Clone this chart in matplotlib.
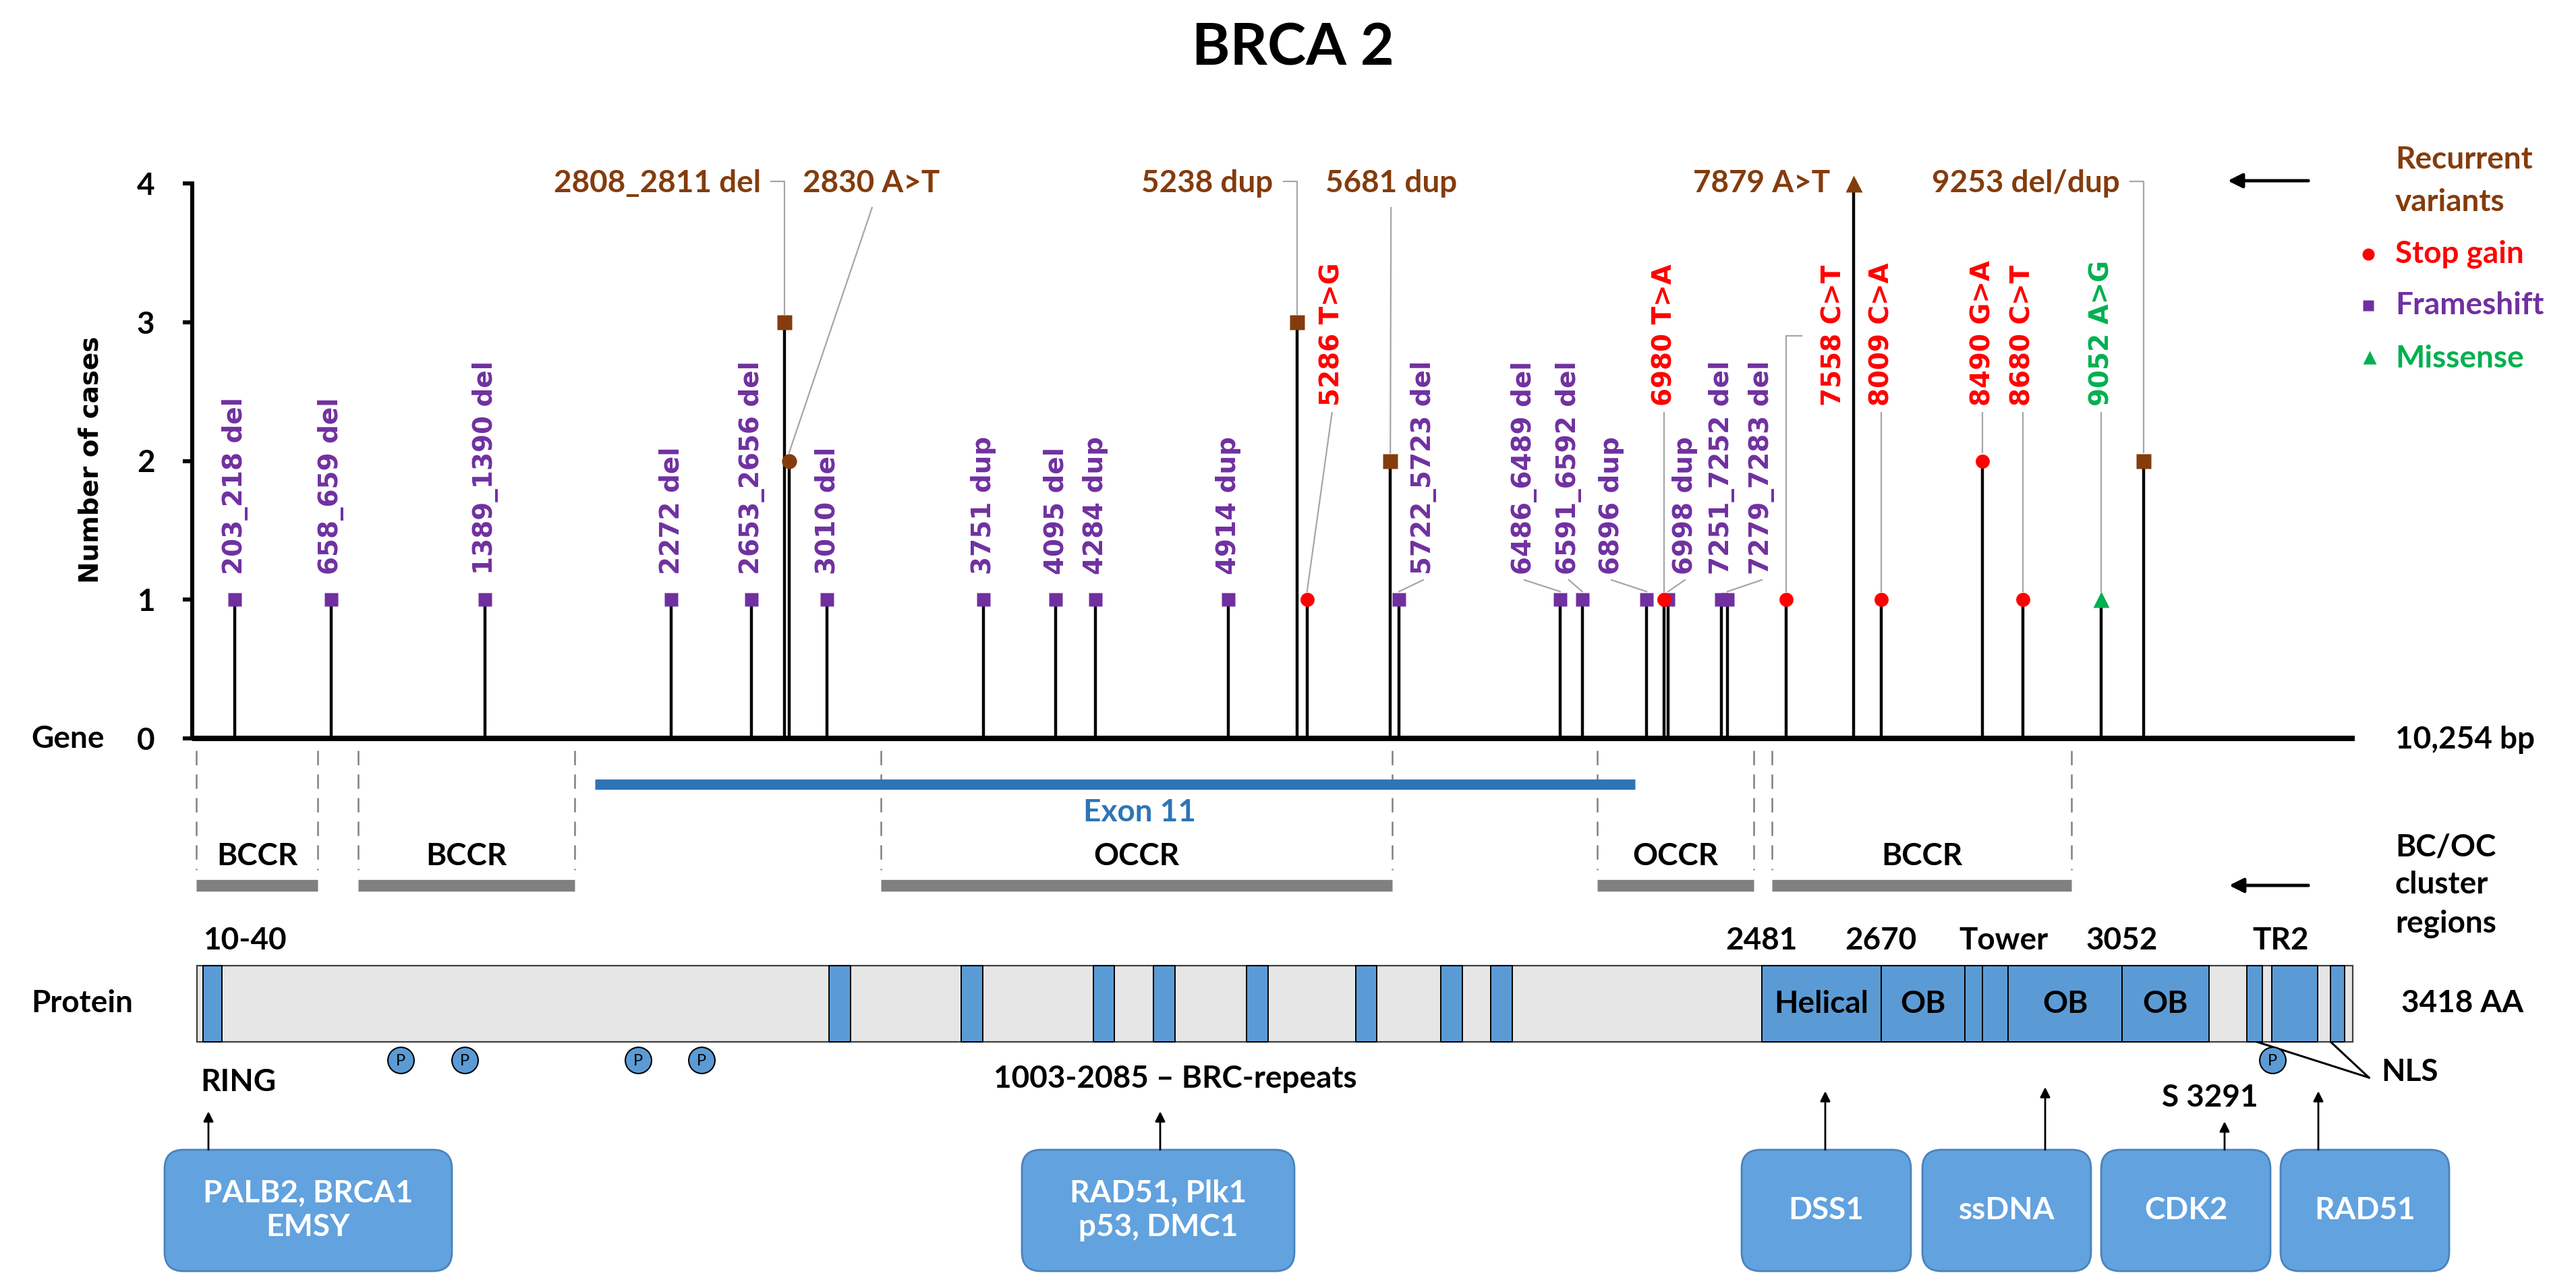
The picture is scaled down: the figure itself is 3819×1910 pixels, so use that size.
import matplotlib
matplotlib.use("Agg")
import matplotlib.pyplot as plt
from matplotlib.patches import Rectangle, FancyBboxPatch

# ------------------------------------------------------------------ data
gene_length_bp = 10254
protein_length_aa = 3418

frameshift_pos = [203, 658, 1389, 2272, 2653, 3010, 3751, 4095, 4284, 4914,
                  5722, 6486, 6591, 6896, 6998, 7251, 7279]
frameshift_cases = [1, 1, 1, 1, 1, 1, 1, 1, 1, 1, 1, 1, 1, 1, 1, 1, 1]
frameshift_labels = ['203_218 del', '658_659 del', '1389_1390 del', '2272 del',
                     '2653_2656 del', '3010 del', '3751 dup', '4095 del',
                     '4284 dup', '4914 dup', '5722_5723 del', '6486_6489 del',
                     '6591_6592 del', '6896 dup', '6998 dup', '7251_7252 del',
                     '7279_7283 del']

stopgain_pos = [5286, 6980, 7558, 8009, 8490, 8680]
stopgain_cases = [1, 1, 1, 1, 2, 1]
stopgain_labels = ['5286 T>G', '6980 T>A', '7558 C>T', '8009 C>A', '8490 G>A', '8680 C>T']

missense_pos = [9052]
missense_cases = [1]
missense_labels = ['9052 A>G']

recurrent_pos = [2808, 2830, 5238, 5681, 7879, 9253]
recurrent_cases = [3, 2, 3, 2, 4, 2]
recurrent_labels = ['2808_2811 del', '2830 A>T', '5238 dup', '5681 dup', '7879 A>T', '9253 del/dup']
recurrent_kind = ['Frameshift', 'Stop gain', 'Frameshift', 'Frameshift', 'Missense', 'Frameshift']

region_names = ['BCCR', 'BCCR', 'OCCR', 'OCCR', 'BCCR']
region_start_bp = [20, 787, 3265, 6663, 7492]
region_end_bp = [596, 1815, 5690, 7404, 8912]
exon11_bp = [1910, 6841]

domain_start_aa = [10, 1002, 1212, 1421, 1517, 1664, 1837, 1972, 2051,
                   2481, 2670, 2803, 2831, 2872, 3052, 3250, 3290, 3383]
domain_end_aa = [40, 1036, 1246, 1455, 1551, 1698, 1871, 2006, 2085,
                 2670, 2803, 2831, 2872, 3052, 3190, 3275, 3362, 3405]
domain_names = ['', '', '', '', '', '', '', '', '',
                'Helical', 'OB', '', '', 'OB', 'OB', '', '', '']
phospho_sites_aa = [323, 425, 699, 800, 3291]
protein_marks = ['10-40', '2481', '2670', 'Tower', '3052', 'TR2']
protein_marks_aa = [10, 2481, 2670, 2865, 3052, 3304]
nls_aa = [3266, 3383]

partner_names = ['PALB2, BRCA1\nEMSY', 'RAD51, Plk1\np53, DMC1', 'DSS1', 'ssDNA', 'CDK2', 'RAD51']

# ------------------------------------------------------------------ style / layout
W, H, DPI = 3819, 1910, 100
BROWN, RED, PURPLE, GREEN = '#843C0C', '#FF0000', '#7030A0', '#00B050'
BLUE, EXON, GBAR, LEAD = '#5B9BD5', '#2E75B6', '#808080', '#A6A6A6'
LATO = ['Lato', 'DejaVu Sans']
DV = ['DejaVu Sans']

AX_L, AX_R, AX_Y0, AX_Y4 = 285, 3491, 1095, 272
PR_L, PR_R, PR_TOP, PR_BOT = 292, 3488, 1432, 1545


def bpx(bp):
    return AX_L + bp * (AX_R - AX_L) / gene_length_bp


def cpy(c):
    return AX_Y0 + c * (AX_Y4 - AX_Y0) / 4.0


def aax(aa):
    return PR_L + aa * (PR_R - PR_L) / protein_length_aa


fig = plt.figure(figsize=(W / DPI, H / DPI), dpi=DPI)

# ---------------- main lollipop axes
ax = fig.add_axes([AX_L / W, 1 - AX_Y0 / H, (AX_R - AX_L) / W, (AX_Y0 - AX_Y4) / H])
ax.set_xlim(0, gene_length_bp)
ax.set_ylim(0, 4)
ax.patch.set_alpha(0)
for s in ['top', 'right', 'bottom']:
    ax.spines[s].set_visible(False)
ax.spines['left'].set_linewidth(4.3)
ax.set_xticks([])
ax.set_yticks([0, 1, 2, 3, 4])
ax.tick_params(axis='y', length=10, width=4.3, pad=30, labelsize=33)
for lab in ax.get_yticklabels():
    lab.set_fontfamily(LATO)
    lab.set_fontweight('bold')

ax.plot([0, gene_length_bp], [0, 0], color='k', lw=5.8, solid_capstyle='butt',
        clip_on=False, zorder=3)

all_pos = frameshift_pos + stopgain_pos + missense_pos + recurrent_pos
all_cases = frameshift_cases + stopgain_cases + missense_cases + recurrent_cases
ax.vlines(all_pos, 0, all_cases, color='k', lw=3.2, zorder=2, clip_on=False)

ax.plot(frameshift_pos, frameshift_cases, 's', color=PURPLE, ms=15, mec='none', zorder=4, clip_on=False)
ax.plot(stopgain_pos, stopgain_cases, 'o', color=RED, ms=15, mec='none', zorder=4, clip_on=False)
ax.plot(missense_pos, missense_cases, '^', color=GREEN, ms=17, mec='none', zorder=4, clip_on=False)
kind_marker = {'Frameshift': 's', 'Stop gain': 'o', 'Missense': '^'}
for p, c, k in zip(recurrent_pos, recurrent_cases, recurrent_kind):
    ax.plot([p], [c], kind_marker[k], color=BROWN, ms=16 if k != 'Missense' else 18,
            mec='none', zorder=4, clip_on=False)

# ---------------- overlay axes in pixel units for annotations
axl = fig.add_axes([0, 0, 1, 1])
axl.set_xlim(0, W)
axl.set_ylim(H, 0)
axl.axis('off')

axl.text(1917, 72, 'BRCA 2', ha='center', va='center', fontsize=62,
         fontweight='bold', family=LATO)
axl.text(135, 682, 'Number of cases', rotation=90, ha='center', va='center',
         fontsize=28, fontweight='bold', family=DV)
axl.text(46, 1096, 'Gene', ha='left', va='center', fontsize=33, fontweight='bold', family=LATO)
axl.text(3551, 1097, '10,254 bp', ha='left', va='center', fontsize=33, fontweight='bold', family=LATO)

# frameshift labels (rotated)
fs_offset = {'5722_5723 del': 36, '6486_6489 del': -53, '6591_6592 del': -20,
             '6896 dup': -52, '6998 dup': 25, '7279_7283 del': 51}
for p, c, lab in zip(frameshift_pos, frameshift_cases, frameshift_labels):
    xs = bpx(p)
    off = fs_offset.get(lab, 0)
    axl.text(xs + off, 852, lab, rotation=90, ha='center', va='bottom', color=PURPLE,
             fontsize=28, fontweight='bold', family=DV)
    if off:
        axl.plot([xs + off, xs], [860, cpy(c) - 12], color=LEAD, lw=1.6)

sg_offset = {'5286 T>G': 37, '7558 C>T': 70}
for p, c, lab in zip(stopgain_pos + missense_pos, stopgain_cases + missense_cases,
                     stopgain_labels + missense_labels):
    xs = bpx(p)
    off = sg_offset.get(lab, 0)
    col = GREEN if lab in missense_labels else RED
    axl.text(xs + off, 602, lab, rotation=90, ha='center', va='bottom', color=col,
             fontsize=28, fontweight='bold', family=DV)
    if lab == '7558 C>T':
        axl.plot([xs + off - 47, xs, xs], [498, 498, cpy(c) - 12], color=LEAD, lw=1.6)
    else:
        axl.plot([xs + off, xs], [612, cpy(c) - 12], color=LEAD, lw=1.6)

# recurrent labels (horizontal, brown)
for p, c, lab in zip(recurrent_pos, recurrent_cases, recurrent_labels):
    xs = bpx(p)
    yt = cpy(c) - 12
    if lab == '2830 A>T':
        axl.text(xs + 20, 272, lab, ha='left', va='center', color=BROWN, fontsize=33,
                 fontweight='bold', family=LATO)
        axl.plot([xs + 123, xs], [308, yt], color=LEAD, lw=1.6)
    elif lab == '5681 dup':
        axl.text(xs + 1, 272, lab, ha='center', va='center', color=BROWN, fontsize=33,
                 fontweight='bold', family=LATO)
        axl.plot([xs + 1, xs], [308, yt], color=LEAD, lw=1.6)
    else:
        axl.text(xs - 35, 272, lab, ha='right', va='center', color=BROWN, fontsize=33,
                 fontweight='bold', family=LATO)
        if c < 4:
            axl.plot([xs - 20, xs, xs], [269, 269, yt], color=LEAD, lw=1.6)

# legend
axl.annotate('', xy=(3300, 268), xytext=(3425, 268),
             arrowprops=dict(arrowstyle='-|>', lw=3.5, color='k', mutation_scale=32))
axl.text(3551, 237, 'Recurrent', ha='left', va='center', color=BROWN, fontsize=33, fontweight='bold', family=LATO)
axl.text(3551, 300, 'variants', ha='left', va='center', color=BROWN, fontsize=33, fontweight='bold', family=LATO)
axl.plot([3511], [377], 'o', color=RED, ms=13, mec='none')
axl.text(3551, 377, 'Stop gain', ha='left', va='center', color=RED, fontsize=33, fontweight='bold', family=LATO)
axl.plot([3511], [453], 's', color=PURPLE, ms=12, mec='none')
axl.text(3551, 453, 'Frameshift', ha='left', va='center', color=PURPLE, fontsize=33, fontweight='bold', family=LATO)
axl.plot([3513], [530], '^', color=GREEN, ms=14, mec='none')
axl.text(3551, 532, 'Missense', ha='left', va='center', color=GREEN, fontsize=33, fontweight='bold', family=LATO)

# cluster regions
for nm, s, e in zip(region_names, region_start_bp, region_end_bp):
    for b in (s, e):
        axl.plot([bpx(b), bpx(b)], [1113, 1290], color=GBAR, lw=1.8, dashes=(8.5, 5.5))
    axl.plot([bpx(s), bpx(e)], [1313, 1313], color=GBAR, lw=12.5, solid_capstyle='butt')
    axl.text((bpx(s) + bpx(e)) / 2, 1270, nm, ha='center', va='center', fontsize=33,
             fontweight='bold', family=LATO)
axl.plot([bpx(exon11_bp[0]), bpx(exon11_bp[1])], [1163, 1163], color=EXON, lw=11,
         solid_capstyle='butt')
axl.text(1689, 1205, 'Exon 11', ha='center', va='center', color=EXON, fontsize=33,
         fontweight='bold', family=LATO)

axl.annotate('', xy=(3302, 1313), xytext=(3425, 1313),
             arrowprops=dict(arrowstyle='-|>', lw=3.5, color='k', mutation_scale=32))
for t, y in zip(['BC/OC', 'cluster', 'regions'], [1256, 1312, 1370]):
    axl.text(3551, y, t, ha='left', va='center', fontsize=33, fontweight='bold', family=LATO)

# ---------------- protein axes
axp = fig.add_axes([PR_L / W, 1 - PR_BOT / H, (PR_R - PR_L) / W, (PR_BOT - PR_TOP) / H])
axp.set_xlim(0, protein_length_aa)
axp.set_ylim(0, 1)
axp.axis('off')
axp.add_patch(Rectangle((0, 0), protein_length_aa, 1, fc='#E7E6E6', ec='#3F3F3F', lw=1.6,
                        clip_on=False))
for s, e, nm in zip(domain_start_aa, domain_end_aa, domain_names):
    axp.add_patch(Rectangle((s, 0), e - s, 1, fc=BLUE, ec='k', lw=1.4, clip_on=False))
    if nm:
        axp.text((s + e) / 2, 0.5, nm, ha='center', va='center', fontsize=33,
                 fontweight='bold', family=LATO)

for nm, a in zip(protein_marks, protein_marks_aa):
    ha = 'left' if nm == '10-40' else 'center'
    axl.text(aax(a), 1395, nm, ha=ha, va='center', fontsize=33, fontweight='bold', family=LATO)

axl.text(46, 1488, 'Protein', ha='left', va='center', fontsize=33, fontweight='bold', family=LATO)
axl.text(3560, 1488, '3418 AA', ha='left', va='center', fontsize=33, fontweight='bold', family=LATO)

for a in phospho_sites_aa:
    axl.plot([aax(a)], [1572], 'o', ms=28, mfc=BLUE, mec='k', mew=1.5, zorder=5)
    axl.text(aax(a), 1573, 'P', ha='center', va='center', fontsize=17, family=LATO, zorder=6)

for a in nls_aa:
    axl.plot([aax(a), 3512], [PR_BOT, 1598], color='k', lw=2.2)
axl.text(3530, 1590, 'NLS', ha='left', va='center', fontsize=33, fontweight='bold', family=LATO)

axl.text(353, 1605, 'RING', ha='center', va='center', fontsize=33, fontweight='bold', family=LATO)
axl.text(1742, 1600, '1003-2085 \u2013 BRC-repeats', ha='center', va='center', fontsize=33,
         fontweight='bold', family=LATO)
axl.text(3276, 1628, 'S 3291', ha='center', va='center', fontsize=33, fontweight='bold', family=LATO)

# ---------------- partner boxes
box_x0 = [244, 1515, 2582, 2850, 3115, 3381]
box_x1 = [670, 1919, 2833, 3100, 3366, 3631]
arrow_x = [309, 1720, 2706, 3032, 3298, 3437]
arrow_tip = [1648, 1648, 1618, 1612, 1663, 1618]
BOX_TOP, BOX_BOT = 1705, 1885
for nm, x0, x1, axx, tip in zip(partner_names, box_x0, box_x1, arrow_x, arrow_tip):
    axl.add_patch(FancyBboxPatch((x0, BOX_TOP), x1 - x0, BOX_BOT - BOX_TOP,
                                 boxstyle='round,pad=0,rounding_size=28',
                                 fc='#62A2DE', ec='#4A83BD', lw=2))
    axl.text((x0 + x1) / 2, (BOX_TOP + BOX_BOT) / 2, nm, ha='center', va='center',
             color='white', fontsize=33, fontweight='bold', family=LATO, linespacing=1.25)
    axl.annotate('', xy=(axx, tip), xytext=(axx, BOX_TOP),
                 arrowprops=dict(arrowstyle='-|>', lw=2, color='k', mutation_scale=22,
                                 shrinkA=0, shrinkB=0))

fig.savefig('out.png', dpi=DPI)
